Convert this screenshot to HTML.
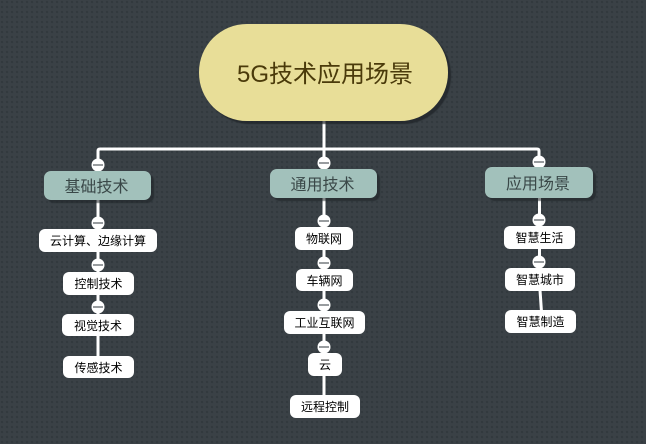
<!DOCTYPE html>
<html><head><meta charset="utf-8"><style>
html,body{margin:0;padding:0;width:646px;height:444px;overflow:hidden}
body{position:relative;background-color:#3a4146;font-family:"Liberation Sans","Noto Sans CJK SC",sans-serif}
.bg{position:absolute;left:0;top:0;width:646px;height:444px;background-image:radial-gradient(circle at 2px 2px,#32393e 0,#32393e 1px,transparent 1.400px);background-size:5px 5px}
svg{position:absolute;left:0;top:0}
.n{position:absolute;box-sizing:border-box;display:flex;align-items:center;justify-content:center;white-space:nowrap}
.c{background:#fff;border-radius:6px;color:#000;font-size:12px}
.m{background:#a2c1bb;border-radius:7px;color:#3a4848;font-size:16px;box-shadow:3px 3px 1px rgba(30,34,38,.55);padding:0 2px 1px 0}
.r{background:#e8de98;color:#4a3a0a;font-size:24px;border-radius:48px;box-shadow:3px 3px 1px rgba(30,34,38,.7);padding:0 0 2px 3px}
</style></head><body>
<div class="bg"></div>
<svg width="646" height="444" fill="none" stroke="#fff" stroke-width="3">
<path d="M324 120V149M98 170V151Q98 149 100 149H537Q539 149 539 151V168M324 149V170"/>
<path d="M98 198V370M324 196V400M539.500 196V268M540 290L541.500 312"/>
<g fill="#fff" stroke="none">
<circle cx="98" cy="165" r="6.500"/><circle cx="324" cy="163" r="6.500"/><circle cx="539" cy="162" r="6.500"/>
<circle cx="98" cy="223" r="6.500"/><circle cx="98" cy="265" r="6.500"/><circle cx="98" cy="307" r="6.500"/>
<circle cx="324" cy="221" r="6.500"/><circle cx="324" cy="263" r="6.500"/><circle cx="324" cy="305" r="6.500"/><circle cx="324" cy="347" r="6.500"/>
<circle cx="539" cy="220" r="6.500"/><circle cx="539" cy="262" r="6.500"/>
</g>
<g stroke="#5a6266" stroke-width="1.200">
<path d="M93 165h10M319 163h10M534 162h10M93 223h10M93 265h10M93 307h10M319 221h10M319 263h10M319 305h10M319 347h10M534 220h10M534 262h10"/>
</g>
</svg>
<div class="n r" style="left:199px;top:24px;width:249px;height:97px">5G技术应用场景</div>
<div class="n m" style="left:44px;top:171px;width:107px;height:29px">基础技术</div>
<div class="n m" style="left:270px;top:169px;width:107px;height:29px">通用技术</div>
<div class="n m" style="left:485px;top:167px;width:108px;height:31px">应用场景</div>
<div class="n c" style="left:39px;top:229px;width:118px;height:23px">云计算、边缘计算</div>
<div class="n c" style="left:63px;top:272px;width:71px;height:23px">控制技术</div>
<div class="n c" style="left:62px;top:314px;width:72px;height:22px">视觉技术</div>
<div class="n c" style="left:63px;top:356px;width:71px;height:22px">传感技术</div>
<div class="n c" style="left:295px;top:227px;width:58px;height:23px">物联网</div>
<div class="n c" style="left:296px;top:269px;width:57px;height:22px">车辆网</div>
<div class="n c" style="left:284px;top:311px;width:81px;height:23px">工业互联网</div>
<div class="n c" style="left:308px;top:353px;width:34px;height:23px">云</div>
<div class="n c" style="left:290px;top:395px;width:70px;height:23px">远程控制</div>
<div class="n c" style="left:504px;top:226px;width:71px;height:23px">智慧生活</div>
<div class="n c" style="left:505px;top:268px;width:70px;height:23px">智慧城市</div>
<div class="n c" style="left:505px;top:310px;width:71px;height:23px">智慧制造</div>
</body></html>
